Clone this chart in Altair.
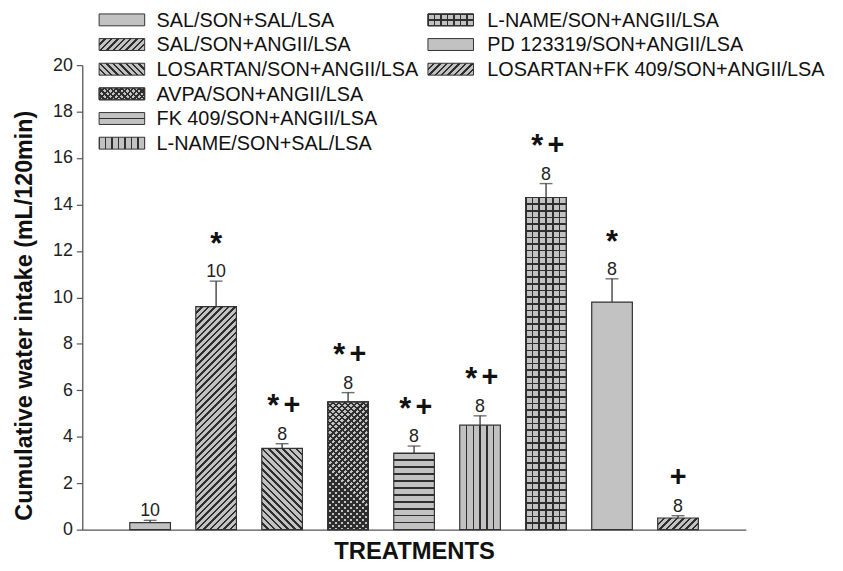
import altair as alt
import pandas as pd

# ---------------- data ----------------
treatments = [
    "SAL/SON+SAL/LSA",
    "SAL/SON+ANGII/LSA",
    "LOSARTAN/SON+ANGII/LSA",
    "AVPA/SON+ANGII/LSA",
    "FK 409/SON+ANGII/LSA",
    "L-NAME/SON+SAL/LSA",
    "L-NAME/SON+ANGII/LSA",
    "PD 123319/SON+ANGII/LSA",
    "LOSARTAN+FK 409/SON+ANGII/LSA",
]
means = [0.3, 9.6, 3.5, 5.5, 3.3, 4.5, 14.3, 9.8, 0.5]
sems = [0.1, 1.1, 0.2, 0.4, 0.3, 0.4, 0.6, 1.0, 0.1]
n_rats = ["10", "10", "8", "8", "8", "8", "8", "8", "8"]
signif = ["", "*", "*+", "*+", "*+", "*+", "*+", "*", "+"]
patterns = ["plain", "fwd", "back", "cross", "horiz", "vert", "grid", "plain", "fwd"]
y_ticks = [0, 2, 4, 6, 8, 10, 12, 14, 16, 18, 20]

df = pd.DataFrame({"treatment": treatments, "mean": means, "sem": sems,
                   "n": n_rats, "sig": signif})
df["top"] = df["mean"] + df["sem"]

# ---------------- styling ----------------
FONT = "Liberation Sans, Arial, sans-serif"
W, H = 670, 469
PAD_L, PAD_T = 75, 55
PPU = H / 20.0            # pixels per y unit (for hatch density only)
PAD_IN, PAD_OUT = 0.384, 0.72
STEP = W / (len(treatments) - PAD_IN + 2 * PAD_OUT)
BW = STEP * (1 - PAD_IN)
GRAY = "#c2c2c2"
DARK = "#2e2e2e"
CLEAR = "rgba(0,0,0,0)"
LINE = "#333333"


def stripe_stops(n, frac, dark, light):
    stops = []
    for j in range(n + 1):
        a = min(max((j - frac / 2) / n, 0), 1)
        b = min(max((j + frac / 2) / n, 0), 1)
        for off, col in ((a, light), (a, dark), (b, dark), (b, light)):
            stops.append({"offset": round(off, 5), "color": col})
    return stops


def diag(w, h, period, frac, light, forward=True):
    k = (w + h) / (w * w + h * h)
    dx, dy = w * k, h * k
    n = max(1, round((w + h) / period))
    if forward:
        x1, y1, x2, y2 = 0, 0, dx, dy
    else:
        x1, y1, x2, y2 = 0, 1, dx, 1 - dy
    return {"gradient": "linear", "x1": x1, "y1": y1, "x2": round(x2, 5),
            "y2": round(y2, 5), "stops": stripe_stops(n, frac, DARK, light)}


def horiz(h, period, frac, light):
    n = max(1, round(h / period))
    return {"gradient": "linear", "x1": 0, "y1": 1, "x2": 0, "y2": 0,
            "stops": stripe_stops(n, frac, DARK, light)}


def vert(w, period, frac, light):
    n = max(1, round(w / period))
    return {"gradient": "linear", "x1": 0, "y1": 0, "x2": 1, "y2": 0,
            "stops": stripe_stops(n, frac, DARK, light)}


def fills(kind, w, h):
    if kind == "plain":
        return [GRAY]
    if kind == "fwd":
        return [diag(w, h, 6.7, 0.38, GRAY, True)]
    if kind == "back":
        return [diag(w, h, 6.7, 0.38, GRAY, False)]
    if kind == "cross":
        return [diag(w, h, 6.0, 0.42, GRAY, True), diag(w, h, 6.0, 0.42, CLEAR, False)]
    if kind == "horiz":
        return [horiz(h, 6.9, 0.22, GRAY)]
    if kind == "vert":
        return [vert(w, 6.8, 0.22, GRAY)]
    if kind == "grid":
        return [vert(w, 6.8, 0.24, GRAY), horiz(h, 6.7, 0.24, CLEAR)]
    return [GRAY]


x_enc = alt.X(
    "treatment:N",
    scale=alt.Scale(domain=treatments, paddingInner=PAD_IN, paddingOuter=PAD_OUT),
    axis=alt.Axis(labels=False, ticks=False, title="TREATMENTS", titleFont=FONT,
                  titleFontSize=24, titleFontWeight="bold", titleColor="#111",
                  titlePadding=10, domainColor="#555", domainWidth=1.3, grid=False),
)
y_enc = alt.Y(
    "mean:Q",
    scale=alt.Scale(domain=[0, 20], nice=False),
    axis=alt.Axis(values=y_ticks, title="Cumulative water intake (mL/120min)",
                  titleFont=FONT, titleFontSize=23.5, titleFontWeight="bold",
                  titleColor="#111", titleX=-51, titleY=H / 2 + 18, titleAngle=-90,
                  titleAlign="center", titleBaseline="alphabetic",
                  labelFont=FONT, labelFontSize=18, labelColor="#222",
                  labelPadding=4, tickSize=6, tickColor="#555", tickWidth=1.2,
                  domainColor="#555", domainWidth=1.3, grid=False),
)

base = alt.Chart(df)
layers = []

# bars, one layer per hatch fill
for i, t in enumerate(treatments):
    for k, f in enumerate(fills(patterns[i], BW, means[i] * PPU)):
        layers.append(
            base.transform_filter(alt.datum.treatment == t)
            .mark_bar(fill=f, stroke=LINE, strokeWidth=1.2)
            .encode(x=x_enc, y=y_enc)
        )

xs = alt.X("treatment:N")
# error bars (upper only) and caps
layers.append(base.mark_rule(color=LINE, strokeWidth=1.3)
              .encode(x=xs, y="mean:Q", y2="top:Q"))
layers.append(base.mark_tick(color=LINE, size=13, thickness=1.4)
              .encode(x=xs, y="top:Q"))
# n labels
layers.append(base.mark_text(dy=-4, baseline="alphabetic", font=FONT, fontSize=18,
                             color="#222")
              .encode(x=xs, y="top:Q", text="n:N"))
# significance symbols
star_kw = dict(baseline="alphabetic", font=FONT, fontSize=31, fontWeight="bold",
               color="#111")
plus_kw = dict(baseline="alphabetic", font=FONT, fontSize=29, fontWeight="bold",
               color="#111")
layers.append(base.transform_filter(alt.datum.sig == "*")
              .mark_text(dy=-27.5, **star_kw).encode(x=xs, y="top:Q", text=alt.value("*")))
layers.append(base.transform_filter(alt.datum.sig == "*+")
              .mark_text(dy=-27.5, dx=-9, **star_kw).encode(x=xs, y="top:Q", text=alt.value("*")))
layers.append(base.transform_filter(alt.datum.sig == "*+")
              .mark_text(dy=-30, dx=10, **plus_kw).encode(x=xs, y="top:Q", text=alt.value("+")))
layers.append(base.transform_filter(alt.datum.sig == "+")
              .mark_text(dy=-30, **plus_kw).encode(x=xs, y="top:Q", text=alt.value("+")))

# custom legend with hatched swatches (two columns)
SW_W, SW_H = 46, 12
ROW0, ROW_STEP = -45.7, 24.9
for i, t in enumerate(treatments):
    col = 0 if i < 6 else 1
    row = i if col == 0 else i - 6
    sx = 17 if col == 0 else 349
    tx = 75 if col == 0 else 409
    yc = ROW0 + row * ROW_STEP
    ldf = pd.DataFrame({"label": [t]})
    for f in fills(patterns[i], SW_W, SW_H):
        layers.append(
            alt.Chart(ldf).mark_rect(fill=f, stroke=LINE, strokeWidth=1)
            .encode(x=alt.value(sx), x2=alt.value(sx + SW_W),
                    y=alt.value(yc - SW_H / 2), y2=alt.value(yc + SW_H / 2))
        )
    layers.append(
        alt.Chart(ldf).mark_text(align="left", baseline="middle", font=FONT,
                                 fontSize=20, color="#111")
        .encode(x=alt.value(tx), y=alt.value(yc + 1), text="label:N")
    )

chart = (
    alt.layer(*layers)
    .properties(width=W, height=H, background="white",
                autosize=alt.AutoSizeParams(type="none"),
                padding={"left": PAD_L, "top": PAD_T, "right": 90, "bottom": 32})
    .configure_view(stroke=None)
)

chart.save("out.html", embed_options={"renderer": "svg", "actions": False})
